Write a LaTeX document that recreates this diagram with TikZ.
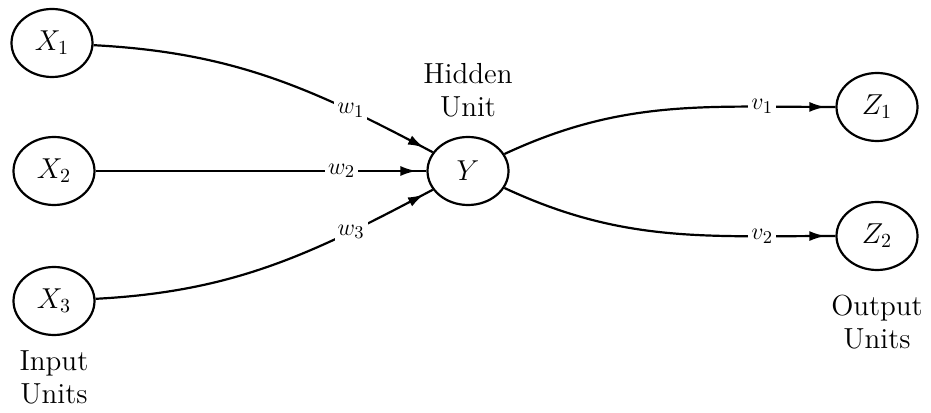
\documentclass[tikz,border=0pt]{standalone}
\usetikzlibrary{positioning,arrows.meta,shapes.geometric,decorations.markings}

\begin{document}
\begin{tikzpicture}[x=0.5pt,y=0.5pt,line width=1.1pt,
  unit/.style={draw,ellipse,inner sep=0pt,minimum width=40.5pt,minimum height=34pt,font=\fontsize{14.5}{16}\selectfont},
  grp/.style={align=center,font=\fontsize{14.5}{16.5}\selectfont},
  wt/.style={fill=white,inner sep=1.5pt,font=\fontsize{13}{15}\selectfont},
  wire/.style={postaction={decorate},decoration={markings,mark=at position -5pt with {\arrow{Latex[length=8pt,width=5pt]}}}}]
\useasboundingbox (0,0) rectangle (931,412);
% input units
\node[unit] (x1) at (52,369) {$X_1$};
\node[unit] (x2) at (54,241) {$X_2$};
\node[unit] (x3) at (54,111) {$X_3$};
\node[grp,below=3.5pt of x3] (inlbl) {Input\\Units};
% hidden unit
\node[unit] (y) at (468,241) {$Y$};
\node[grp,above=5.5pt of y] (hidlbl) {Hidden\\Unit};
% output units
\node[unit] (z1) at (877,305) {$Z_1$};
\node[unit] (z2) at (877,176) {$Z_2$};
\node[grp,below=8pt of z2] (outlbl) {Output\\Units};
% weights
\foreach \s/\o/\i/\w in {x1/-3/152/w_1,x2/0/180/w_2,x3/3/208/w_3}{\draw[wire] (\s) to[out=\o,in=\i] node[wt,pos=0.76]{$\w$} (y);}
\foreach \t/\o/\w in {z1/25/v_1,z2/-25/v_2}{\draw[wire] (y) to[out=\o,in=180] node[wt,pos=0.8]{$\w$} (\t);}
\end{tikzpicture}
\end{document}
